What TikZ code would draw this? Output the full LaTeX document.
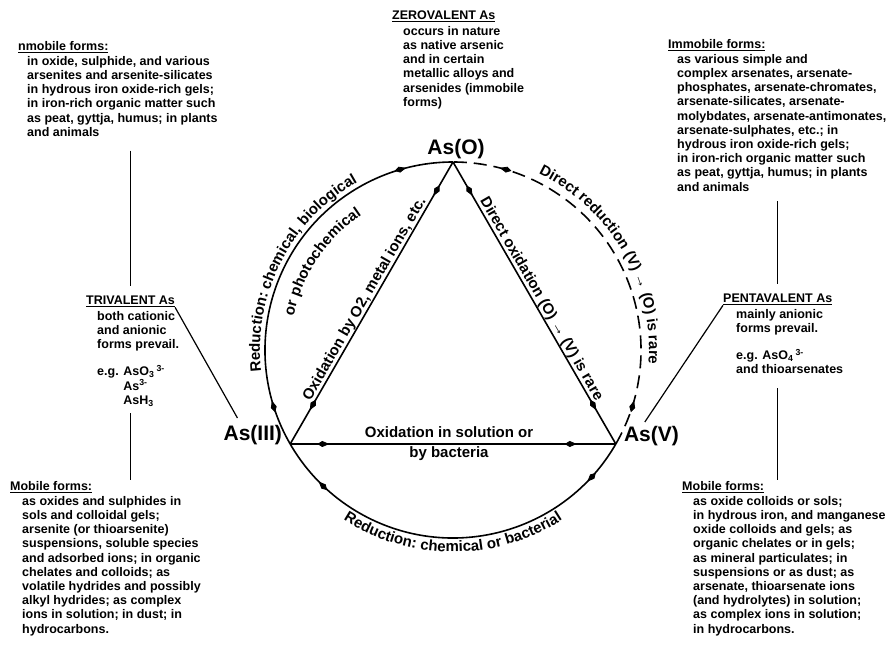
\documentclass[tikz,border=0pt]{standalone}
\usepackage{fontspec}
\setmainfont{Liberation Sans}
\usepackage{tikz}
\usetikzlibrary{arrows.meta, positioning, calc, decorations.markings, decorations.text}
\newcommand{\arcfont}{\fontsize{15}{18}\selectfont\bfseries}
\tikzset{
	formhead/.style={anchor=base west, inner sep=0pt, font=\fontsize{12.5}{14.2}\selectfont\bfseries},
	formbody/.style={anchor=north west, inner sep=0pt, align=left, font=\fontsize{12.5}{14.2}\selectfont\bfseries},
	valence/.style={inner sep=0pt, font=\fontsize{21}{24}\selectfont\bfseries},
	pathlabel/.style={inner sep=0pt, font=\fontsize{15}{20}\selectfont\bfseries},
	leader/.style={line width=1.2pt},
	route/.style={line width=1.6pt, postaction={decorate}, decoration={markings,
		mark=at position 0.12 with {\arrow[line width=0.8pt]{Kite[length=12pt,width=6pt,inset=5pt]}},
		mark=at position 0.88 with {\arrow[line width=0.8pt]{Kite[length=12pt,width=6pt,inset=5pt]}}}},
	rareroute/.style={route, dash pattern=on 13pt off 7pt},
	arctext/.style={decorate, decoration={text along path, text align=center}}
}

\begin{document}
\begin{tikzpicture}[x=1pt, y=1pt]
	\useasboundingbox (0,0) rectangle (895,648);
	
	% Oxidation states on the circle
	\coordinate (c) at (453,298);
	\coordinate (o) at ($(c)+(90:188)$);
	\coordinate (iii) at ($(c)+(210:188)$);
	\coordinate (v) at ($(c)+(330:188)$);
	\node (olbl) [valence, above=3pt of o, xshift=3pt] {As(O)};
	\node (iiilbl) [valence, left=8pt of iii, yshift=9pt] {As(III)};
	\node (vlbl) [valence, right=8pt of v, yshift=8pt] {As(V)};
	
	% Transformations
	\draw [route] (iii) arc[start angle=210, end angle=90, radius=188];
	\draw [route] (o) -- node [pathlabel, sloped, above] {Oxidation by O2, metal ions, etc.} (iii);
	\draw [route] (iii) -- node [pathlabel, align=center, xshift=-4pt] {Oxidation in solution or\\by bacteria} (v);
	\draw [route] (v) arc[start angle=-30, end angle=-150, radius=188];
	\draw [route] (o) -- node [pathlabel, sloped, above] {Direct oxidation (O) → (V) is rare} (v);
	\draw [rareroute] (v) arc[start angle=-30, end angle=90, radius=188];
	
	% Labels along the arcs
	\path [arctext, decoration={text={|\arcfont|Reduction: chemical, biological}}] ($(c)+(194:193)$) arc[start angle=194, end angle=112, radius=193];
	\path [arctext, decoration={text={|\arcfont|or photochemical}}] ($(c)+(175:163)$) arc[start angle=175, end angle=117, radius=163];
	\path [arctext, decoration={text={|\arcfont|Reduction: chemical or bacterial}}] ($(c)+(230:202)$) arc[start angle=230, end angle=310, radius=202];
	\path [arctext, decoration={text={|\arcfont|Direct reduction (V) → (O) is rare}}] ($(c)+(72:196)$) arc[start angle=72, end angle=-12, radius=196];
	
	% Zerovalent
	\node (zerohead) [formhead] at (392,628) {\underline{ZEROVALENT As}};
	\node (zerobody) [formbody] at (403,622) {occurs in nature\\as native arsenic\\and in certain\\metallic alloys and\\arsenides (immobile\\forms)};
	
	% Trivalent
	\node (tlhead) [formhead] at (18,597) {\underline{nmobile forms:}};
	\node (tlbody) [formbody] at (27,592) {in oxide, sulphide, and various\\arsenites and arsenite-silicates\\in hydrous iron oxide-rich gels;\\in iron-rich organic matter such\\as peat, gyttja, humus; in plants\\and animals};
	\node (trihead) [formhead] at (86,343) {\underline{TRIVALENT As}};
	\node (tribody) [formbody] at (97,337) {both cationic\\and anionic\\forms prevail.\\[13pt]e.g. AsO\textsubscript{3}\,\textsuperscript{3-}\\\phantom{e.g. }As\textsuperscript{3-}\\\phantom{e.g. }AsH\textsubscript{3}};
	\node (lmhead) [formhead] at (10,157) {\underline{Mobile forms:}};
	\node (lmbody) [formbody] at (22,152) {as oxides and sulphides in\\sols and colloidal gels;\\arsenite (or thioarsenite)\\suspensions, soluble species\\and adsorbed ions; in organic\\chelates and colloids; as\\volatile hydrides and possibly\\alkyl hydrides; as complex\\ions in solution; in dust; in\\hydrocarbons.};
	
	% Pentavalent
	\node (trhead) [formhead] at (668,599) {\underline{Immobile forms:}};
	\node (trbody) [formbody] at (677,594) {as various simple and\\complex arsenates, arsenate-\\phosphates, arsenate-chromates,\\arsenate-silicates, arsenate-\\molybdates, arsenate-antimonates,\\arsenate-sulphates, etc.; in\\hydrous iron oxide-rich gels;\\in iron-rich organic matter such\\as peat, gyttja, humus; in plants\\and animals};
	\node (penthead) [formhead] at (723,345) {\underline{PENTAVALENT As}};
	\node (pentbody) [formbody] at (736,339) {mainly anionic\\forms prevail.\\[13pt]e.g. AsO\textsubscript{4}\,\textsuperscript{3-}\\and thioarsenates};
	\node (rmhead) [formhead] at (682,157) {\underline{Mobile forms:}};
	\node (rmbody) [formbody] at (693,152) {as oxide colloids or sols;\\in hydrous iron, and manganese\\oxide colloids and gels; as\\organic chelates or in gels;\\as mineral particulates; in\\suspensions or as dust; as\\arsenate, thioarsenate ions\\(and hydrolytes) in solution;\\as complex ions in solution;\\in hydrocarbons.};
	
	% Leaders
	\draw [leader] ($(tlbody.south -| trihead.north)+(0,-14)$) -- ($(trihead.north)+(0,10)$);
	\draw [leader] ($(tribody.south -| trihead.north)+(0,-6)$) -- ($(lmhead.north -| trihead.north)+(0,2)$);
	\draw [leader] (trihead.south east) -- ([xshift=14pt,yshift=7pt]iiilbl.north west);
	\draw [leader] ($(trbody.south -| penthead.north)+(0,-10)$) -- ($(penthead.north)+(0,10)$);
	\draw [leader] ($(pentbody.south -| penthead.north)+(0,-14)$) -- ($(rmhead.north -| penthead.north)+(0,2)$);
	\draw [leader] (penthead.south west) -- ([xshift=21pt,yshift=4pt]vlbl.north west);
\end{tikzpicture}
\end{document}
